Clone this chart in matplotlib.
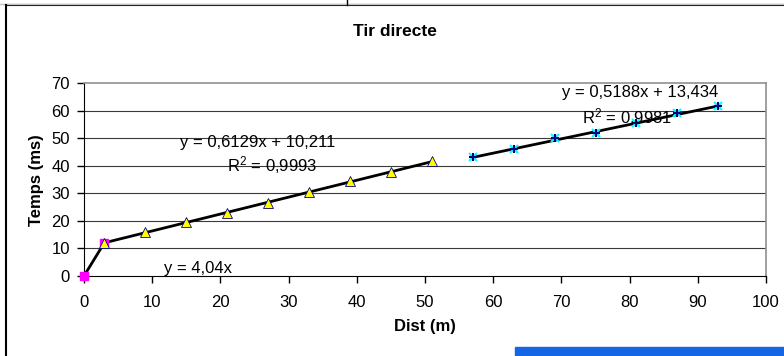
import matplotlib
matplotlib.use("Agg")
import matplotlib.pyplot as plt
from matplotlib.lines import Line2D
from matplotlib.patches import Rectangle
import numpy as np

plt.rcParams['font.family'] = ['Liberation Sans', 'DejaVu Sans']
plt.rcParams['mathtext.fontset'] = 'custom'
plt.rcParams['mathtext.rm'] = 'Liberation Sans'
plt.rcParams['mathtext.it'] = 'Liberation Sans'
plt.rcParams['mathtext.default'] = 'regular'

# Data
x1 = [0, 3]
y1 = [0, 12.12]
x2 = [3, 9, 15, 21, 27, 33, 39, 45, 51]
y2 = [12.0, 15.9, 19.7, 22.9, 26.3, 30.5, 34.6, 37.8, 41.6]
x3 = [57, 63, 69, 75, 81, 87, 93]
y3 = [43.0, 46.2, 50.1, 51.9, 55.6, 59.0, 61.8]

slope1 = 4.04
slope2, inter2 = 0.6129, 10.211
slope3, inter3 = 0.5188, 13.434

title = "Tir directe"
xlabel = "Dist (m)"
ylabel = "Temps (ms)"
eq1 = "y = 4,04x"
eq2 = "y = 0,6129x + 10,211"
r2_2 = "R$^{2}$ = 0,9993"
eq3 = "y = 0,5188x + 13,434"
r2_3 = "R$^{2}$ = 0,9981"

W, H = 784, 356
fig = plt.figure(figsize=(W/100, H/100), dpi=100)

def fx(px):
    return px / W

def fy(py):
    return 1 - py / H

ax = fig.add_axes([fx(84), fy(276), fx(766) - fx(84), fy(83) - fy(276)])
ax.set_xlim(0, 100)
ax.set_ylim(0, 70)
ax.set_xticks(np.arange(0, 101, 10))
ax.set_yticks(np.arange(0, 71, 10))
ax.tick_params(direction='out', length=5, width=1, labelsize=12, colors='black')
ax.tick_params(axis='x', pad=9)
ax.tick_params(axis='y', pad=5)
for y in range(10, 70, 10):
    ax.axhline(y, color='#3a3a3a', lw=0.8, zorder=1)
ax.spines['left'].set_color('black')
ax.spines['bottom'].set_color('black')
ax.spines['top'].set_color('#909090')
ax.spines['right'].set_color('#909090')
ax.spines['top'].set_linewidth(1.2)
ax.spines['right'].set_linewidth(1.2)

# trend lines
tx1 = np.array([x1[0], x1[-1]])
ax.plot(tx1, slope1 * tx1, color='black', lw=2, zorder=3)
tx2 = np.array([x2[0], x2[-1]])
ax.plot(tx2, slope2 * tx2 + inter2, color='black', lw=2, zorder=3)
tx3 = np.array([x3[0], x3[-1]])
ax.plot(tx3, slope3 * tx3 + inter3, color='black', lw=2, zorder=3)

# markers
ax.plot(x1, y1, linestyle='none', marker='s', ms=6, mfc='#ff00ff', mec='#ff00ff', zorder=4, clip_on=False)
ax.plot(x2, y2, linestyle='none', marker='^', ms=7, mfc='#ffff00', mec='#000080', mew=0.6, zorder=5)
ax.plot(x3, y3, linestyle='none', marker='x', ms=6, mec='#00ffff', mew=1.5, zorder=5)
ax.plot(x3, y3, linestyle='none', marker='+', ms=6, mec='#000080', mew=1.5, zorder=6)

# labels
ax.text(16.7, 2.9, eq1, ha='center', va='center', fontsize=12, zorder=7)
ax.text(25.5, 48.6, eq2, ha='center', va='center', fontsize=12, zorder=7)
ax.text(27.6, 40.3, r2_2, ha='center', va='center', fontsize=12, zorder=7)
ax.text(81.5, 66.4, eq3, ha='center', va='center', fontsize=12, zorder=7)
ax.text(79.6, 57.7, r2_3, ha='center', va='center', fontsize=12, zorder=7)

fig.text(fx(425), fy(327), xlabel, ha='center', va='center', fontsize=12, fontweight='bold')
fig.text(fx(37), fy(180), ylabel, ha='center', va='center', rotation=90, fontsize=12, fontweight='bold')
fig.text(fx(395), fy(32), title, ha='center', va='center', fontsize=12.5, fontweight='bold')

# chart area borders
fig.add_artist(Line2D([fx(6), 1], [fy(5), fy(5)], color='black', lw=1.5))
fig.add_artist(Line2D([fx(0), 1], [fy(3.5), fy(3.5)], color='#c0c0c0', lw=1))
fig.add_artist(Line2D([fx(6), fx(6)], [fy(5), 0], color='black', lw=1.5))
fig.add_artist(Line2D([fx(347), fx(347)], [fy(0), fy(5)], color='black', lw=1))
fig.add_artist(Rectangle((fx(515), 0), 1 - fx(515), fy(347), color='#1566e6', transform=fig.transFigure))

fig.savefig("out.png", dpi=100)
